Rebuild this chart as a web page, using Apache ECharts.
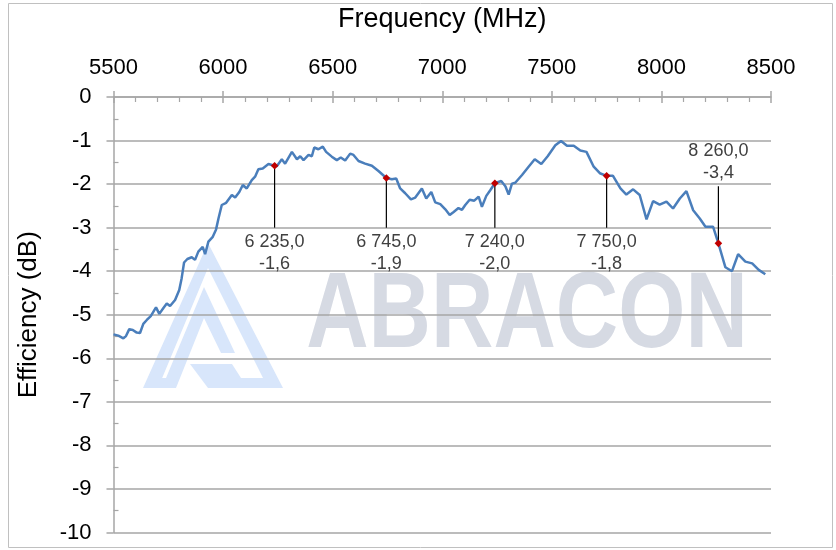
<!DOCTYPE html>
<html>
<head>
<meta charset="utf-8">
<script src="https://cdn.jsdelivr.net/npm/echarts@6/dist/echarts.min.js"></script>
<style>html,body{margin:0;padding:0;background:#fff}#c{width:836px;height:550px}</style>
</head>
<body>
<div id="c"></div>
<script>
// Frequency (MHz) and efficiency (dB)
var freqs = [5500,5522,5545,5557,5572,5588,5606,5621,5636,5652,5670,5694,5709,5727,5743,5758,5781,5800,5811,5822,5837,5857,5872,5887,5907,5918,5933,5953,5968,5979,5994,6014,6040,6055,6074,6090,6108,6131,6146,6161,6181,6207,6235,6245,6268,6283,6314,6337,6352,6367,6390,6405,6416,6435,6455,6470,6496,6519,6537,6557,6580,6595,6618,6648,6679,6709,6745,6770,6790,6808,6831,6857,6877,6907,6927,6950,6968,6991,7014,7034,7052,7074,7090,7105,7125,7146,7166,7181,7201,7219,7240,7269,7288,7303,7318,7333,7364,7394,7422,7452,7481,7516,7542,7569,7600,7630,7658,7691,7719,7750,7779,7813,7840,7871,7901,7932,7962,7992,8023,8053,8084,8114,8145,8175,8201,8236,8260,8292,8322,8350,8383,8414,8444,8474];
var efficiency = [-5.45,-5.48,-5.54,-5.49,-5.33,-5.35,-5.41,-5.42,-5.21,-5.12,-5.03,-4.83,-4.98,-4.85,-4.74,-4.80,-4.66,-4.43,-4.16,-3.80,-3.72,-3.68,-3.74,-3.55,-3.44,-3.61,-3.32,-3.21,-3.04,-2.79,-2.48,-2.43,-2.25,-2.31,-2.18,-2.02,-2.10,-1.91,-1.83,-1.66,-1.64,-1.54,-1.58,-1.59,-1.43,-1.53,-1.26,-1.43,-1.36,-1.45,-1.33,-1.36,-1.16,-1.20,-1.14,-1.26,-1.37,-1.45,-1.39,-1.46,-1.30,-1.33,-1.47,-1.53,-1.58,-1.70,-1.86,-1.89,-1.87,-2.10,-2.21,-2.35,-2.31,-2.10,-2.33,-2.18,-2.42,-2.46,-2.58,-2.71,-2.64,-2.55,-2.59,-2.48,-2.36,-2.38,-2.29,-2.52,-2.27,-2.14,-1.98,-1.93,-2.05,-2.24,-1.99,-1.97,-1.79,-1.60,-1.43,-1.54,-1.36,-1.11,-1.01,-1.12,-1.12,-1.23,-1.26,-1.60,-1.75,-1.81,-1.81,-2.10,-2.24,-2.12,-2.25,-2.81,-2.39,-2.47,-2.40,-2.56,-2.33,-2.16,-2.60,-2.79,-2.98,-2.98,-3.36,-3.91,-4.00,-3.61,-3.78,-3.82,-3.97,-4.07];
// Marked points with data labels (1 = label below, -1 = label above)
var markerFreqs = [6235, 6745, 7240, 7750, 8260];
var markerVals = [-1.58, -1.86, -1.98, -1.81, -3.36];
var markerSide = [1, 1, 1, 1, -1];
var xTicks = [5500, 6000, 6500, 7000, 7500, 8000, 8500];
var yTicks = [0, -1, -2, -3, -4, -5, -6, -7, -8, -9, -10];

var FONT = "'Liberation Sans', Arial, sans-serif";
var lineData = freqs.map(function (f, i) { return [f, efficiency[i]]; });
var markerData = markerFreqs.map(function (f, i) { return [f, markerVals[i], markerSide[i]]; });

function fmtFreq(f) {
  var s = String(Math.round(f));
  return s.replace(/\B(?=(\d{3})+(?!\d))/g, ' ') + ',0';
}
function fmtVal(v) { return v.toFixed(1).replace('.', ','); }

var chart = echarts.init(document.getElementById('c'), null, { renderer: 'canvas' });
var axisGray = '#a6a6a6';
var logoBlue = '#d8e6fb';
var option = {
  animation: false,
  backgroundColor: '#ffffff',
  grid: { left: 113.5, right: 65, top: 97, bottom: 17.5, containLabel: false },
  graphic: [
    { type: 'rect', z: -20, silent: true, shape: { x: 8.5, y: 3.5, width: 824, height: 544 },
      style: { fill: 'none', stroke: '#c0c0c0', lineWidth: 1 } },
    { type: 'polygon', z: -10, silent: true,
      shape: { points: [[143,388],[208,243],[283,388],[268,388],[208,268],[158,388]] },
      style: { fill: logoBlue } },
    { type: 'polygon', z: -10, silent: true,
      shape: { points: [[166,378],[204,287],[235,353],[221,353],[204,318],[180,378]] },
      style: { fill: logoBlue } },
    { type: 'polygon', z: -10, silent: true,
      shape: { points: [[150,378],[180,378],[176,388],[150,388]] },
      style: { fill: logoBlue } },
    { type: 'polygon', z: -10, silent: true,
      shape: { points: [[190,364],[232,364],[241,378],[272,378],[277,388],[208,388]] },
      style: { fill: logoBlue } },
    { type: 'text', z: -10, silent: true, x: 527, y: 317, scaleX: 0.8,
      style: { text: 'ABRACON', x: 0, y: 0, align: 'center', verticalAlign: 'middle',
        font: "bold 108px 'Liberation Sans', 'DejaVu Sans', sans-serif",
        fill: '#d6dae3' } }
  ],
  xAxis: [
    {
      type: 'value', position: 'top', min: 5500, max: 8500, interval: 500,
      name: 'Frequency (MHz)', nameLocation: 'middle', nameGap: 64,
      nameTextStyle: { fontSize: 27, color: '#000', fontFamily: FONT },
      axisLine: { show: true, lineStyle: { color: axisGray, width: 1.5 } },
      axisTick: { show: true, inside: true, length: 6, lineStyle: { color: axisGray, width: 1.5 } },
      minorTick: { show: true, splitNumber: 5, length: 5, lineStyle: { color: axisGray, width: 1.2 } },
      axisLabel: { show: true, margin: 18, fontSize: 22, color: '#000', fontFamily: FONT,
        customValues: xTicks, formatter: function (v) { return String(v); } },
      splitLine: { show: false }
    },
    {
      type: 'value', position: 'top', min: 5500, max: 8500, interval: 500,
      axisLine: { show: false },
      axisTick: { show: true, inside: false, length: 6, lineStyle: { color: axisGray, width: 1.5 } },
      axisLabel: { show: false },
      splitLine: { show: false }
    }
  ],
  yAxis: [
    {
      type: 'value', min: -10, max: 0, interval: 1,
      name: 'Efficiency (dB)', nameLocation: 'middle', nameGap: 72, nameRotate: 90,
      nameTextStyle: { fontSize: 26, color: '#000', fontFamily: FONT },
      axisLine: { show: true, lineStyle: { color: axisGray, width: 1.5 } },
      axisTick: { show: true, inside: false, length: 7, lineStyle: { color: axisGray, width: 1.5 } },
      axisLabel: { show: true, margin: 22, fontSize: 22, color: '#000', fontFamily: FONT,
        customValues: yTicks, formatter: function (v) { return String(v); } },
      splitLine: { show: true, lineStyle: { color: axisGray, width: 1.5 } }
    },
    {
      type: 'value', min: -10, max: 0, interval: 1, position: 'left',
      axisLine: { show: false },
      axisTick: { show: false, inside: true },
      minorTick: { show: true, splitNumber: 2, length: 5, lineStyle: { color: axisGray, width: 1.2 } },
      axisLabel: { show: false },
      splitLine: { show: false }
    }
  ],
  series: [
    {
      type: 'line', xAxisIndex: 0, yAxisIndex: 0, data: lineData,
      showSymbol: false, symbol: 'none', smooth: false,
      lineStyle: { color: '#4a7ebb', width: 2.5 }, z: 3
    },
    {
      type: 'custom', xAxisIndex: 0, yAxisIndex: 0, data: markerData, z: 5,
      renderItem: function (params, api) {
        var f = api.value(0), v = api.value(1), side = api.value(2);
        var p = api.coord([f, v]);
        var children = [];
        var text = fmtFreq(f) + '\n' + fmtVal(v);
        if (side > 0) {
          var yEnd = api.coord([f, -3])[1];
          children.push({ type: 'line', shape: { x1: p[0], y1: p[1], x2: p[0], y2: yEnd },
            style: { stroke: '#000', lineWidth: 1.2 } });
          children.push({ type: 'text', style: { text: text, x: p[0], y: yEnd + 3, align: 'center', verticalAlign: 'top',
            fontSize: 18, lineHeight: 22, fontFamily: FONT, fill: '#404040' } });
        } else {
          var yTop = api.coord([f, -2.05])[1];
          children.push({ type: 'line', shape: { x1: p[0], y1: p[1], x2: p[0], y2: yTop },
            style: { stroke: '#000', lineWidth: 1.2 } });
          children.push({ type: 'text', style: { text: text, x: p[0], y: yTop - 2, align: 'center', verticalAlign: 'bottom',
            fontSize: 18, lineHeight: 22, fontFamily: FONT, fill: '#404040' } });
        }
        var s = 3.8;
        children.push({ type: 'polygon', shape: { points: [[p[0], p[1] - s], [p[0] + s, p[1]], [p[0], p[1] + s], [p[0] - s, p[1]]] },
          style: { fill: '#c00000' } });
        return { type: 'group', children: children };
      }
    }
  ]
};
chart.setOption(option);
</script>
</body>
</html>
